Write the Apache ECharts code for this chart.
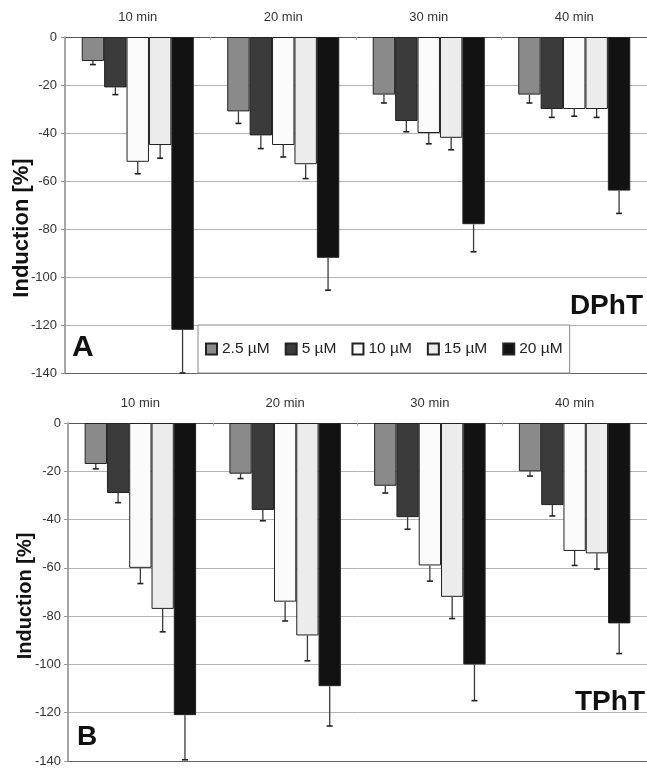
<!DOCTYPE html>
<html>
<head>
<meta charset="utf-8">
<script src="https://cdn.jsdelivr.net/npm/echarts@6/dist/echarts.min.js"></script>
<style>
  html, body { margin: 0; padding: 0; background: #fff; }
  #chart { width: 647px; height: 768px; }
</style>
</head>
<body>
<div id="chart"></div>
<script>
// Exposure times (categories) and concentrations (series)
const categories = ['10 min', '20 min', '30 min', '40 min'];
const concentrations = ['2.5 µM', '5 µM', '10 µM', '15 µM', '20 µM'];
const barColors = ['#8a8a8a', '#3b3b3b', '#fbfbfb', '#ececec', '#121212'];

// Panel A: DPhT — mean induction [%] per concentration
const dphtMean25 = [-10, -31, -24, -24];
const dphtMean5  = [-21, -41, -35, -30];
const dphtMean10 = [-52, -45, -40, -30];
const dphtMean15 = [-45, -53, -42, -30];
const dphtMean20 = [-122, -92, -78, -64];
// Panel A: DPhT — error (one-sided, drawn downward)
const dphtErr25 = [1.5, 5, 3.5, 3.5];
const dphtErr5  = [3, 5.5, 4.5, 3.5];
const dphtErr10 = [5, 5, 4.5, 3];
const dphtErr15 = [5.5, 6, 5, 3.5];
const dphtErr20 = [18, 13.5, 11.5, 9.5];

// Panel B: TPhT — mean induction [%] per concentration
const tphtMean25 = [-17, -21, -26, -20];
const tphtMean5  = [-29, -36, -39, -34];
const tphtMean10 = [-60, -74, -59, -53];
const tphtMean15 = [-77, -88, -72, -54];
const tphtMean20 = [-121, -109, -100, -83];
// Panel B: TPhT — error
const tphtErr25 = [2, 2, 3, 2];
const tphtErr5  = [4, 4.5, 5, 4.5];
const tphtErr10 = [6.5, 8, 6.5, 6];
const tphtErr15 = [9.5, 10.5, 9, 6.5];
const tphtErr20 = [18.5, 16.5, 15, 12.5];

const yMin = -140, yMax = 0, yStep = 20;

const dphtMeans = [dphtMean25, dphtMean5, dphtMean10, dphtMean15, dphtMean20];
const dphtErrs  = [dphtErr25, dphtErr5, dphtErr10, dphtErr15, dphtErr20];
const tphtMeans = [tphtMean25, tphtMean5, tphtMean10, tphtMean15, tphtMean20];
const tphtErrs  = [tphtErr25, tphtErr5, tphtErr10, tphtErr15, tphtErr20];

const FONT = '"Liberation Sans", Arial, sans-serif';
const GAP = 0.23; // barCategoryGap as a fraction

const chart = echarts.init(document.getElementById('chart'), null, { renderer: 'canvas' });

function xAxisFor(gridIndex) {
  return {
    type: 'category',
    gridIndex: gridIndex,
    data: categories,
    position: 'top',
    axisLine: { show: true, lineStyle: { color: '#555', width: 1 } },
    axisTick: { show: true, inside: true, length: 3, lineStyle: { color: '#aaa' } },
    axisLabel: { color: '#333', fontSize: 13, fontFamily: FONT, margin: 13 },
    splitLine: { show: false }
  };
}

// Plain baseline along the bottom edge of each panel
function baseAxisFor(gridIndex) {
  return {
    type: 'category',
    gridIndex: gridIndex,
    data: categories,
    position: 'bottom',
    axisLine: { show: true, lineStyle: { color: '#666', width: 1.2 } },
    axisTick: { show: false },
    axisLabel: { show: false },
    splitLine: { show: false }
  };
}

function yAxisFor(gridIndex, margin) {
  return {
    type: 'value',
    gridIndex: gridIndex,
    min: yMin, max: yMax, interval: yStep,
    axisLine: { show: true, lineStyle: { color: '#888', width: 1.5 } },
    axisTick: { show: true, length: 4, lineStyle: { color: '#999' } },
    axisLabel: { color: '#333', fontSize: 13, fontFamily: FONT, margin: margin },
    splitLine: { show: true, lineStyle: { color: '#b4b4b4', width: 1 } }
  };
}

function barSeries(gridIndex, means) {
  return means.map(function (vals, i) {
    return {
      name: concentrations[i],
      type: 'bar',
      xAxisIndex: gridIndex,
      yAxisIndex: gridIndex,
      data: vals,
      barGap: '0%',
      barCategoryGap: (GAP * 100) + '%',
      itemStyle: { color: barColors[i], borderColor: '#222', borderWidth: 1 },
      emphasis: { disabled: true },
      z: 2
    };
  });
}

function errorSeries(gridIndex, means, errs) {
  return means.map(function (vals, i) {
    const data = vals.map(function (v, k) { return [k, v, errs[i][k]]; });
    return {
      type: 'custom',
      xAxisIndex: gridIndex,
      yAxisIndex: gridIndex,
      data: data,
      z: 3,
      silent: true,
      renderItem: function (params, api) {
        const k = api.value(0);
        const v = api.value(1);
        const e = api.value(2);
        const band = api.size([1, 0])[0];
        const barW = band * (1 - GAP) / 5;
        const top = api.coord([k, v]);
        const bot = api.coord([k, v - e]);
        const cx = top[0] + (i - 2) * barW;
        const cap = 3;
        return {
          type: 'group',
          children: [
            { type: 'line', shape: { x1: cx, y1: top[1], x2: cx, y2: bot[1] },
              style: { stroke: '#3a3a3a', lineWidth: 1.3 } },
            { type: 'line', shape: { x1: cx - cap, y1: bot[1], x2: cx + cap, y2: bot[1] },
              style: { stroke: '#222', lineWidth: 1.6 } }
          ]
        };
      }
    };
  });
}

const option = {
  backgroundColor: '#fff',
  animation: false,
  textStyle: { fontFamily: FONT },
  grid: [
    { left: 65, top: 37, width: 583, height: 336 },
    { left: 68, top: 423, width: 584, height: 338 }
  ],
  xAxis: [xAxisFor(0), xAxisFor(1), baseAxisFor(0), baseAxisFor(1)],
  yAxis: [yAxisFor(0, 8), yAxisFor(1, 7)],
  legend: {
    data: concentrations,
    left: 198,
    top: 325,
    orient: 'horizontal',
    icon: 'rect',
    itemWidth: 11,
    itemHeight: 11,
    itemGap: 15,
    padding: [16, 7, 16, 7],
    borderColor: '#888',
    borderWidth: 1,
    backgroundColor: '#fff',
    selectedMode: false,
    textStyle: { color: '#222', fontSize: 15.5, fontFamily: FONT }
  },
  graphic: [
    { type: 'text', x: 22, y: 228, rotation: Math.PI / 2,
      style: { text: 'Induction [%]', font: 'bold 22px ' + FONT, fill: '#111', align: 'center', verticalAlign: 'middle' } },
    { type: 'text', x: 25, y: 596, rotation: Math.PI / 2,
      style: { text: 'Induction [%]', font: 'bold 20px ' + FONT, fill: '#111', align: 'center', verticalAlign: 'middle' } },
    { type: 'text', x: 72, y: 348,
      style: { text: 'A', font: 'bold 30px ' + FONT, fill: '#111', align: 'left', verticalAlign: 'middle' } },
    { type: 'text', x: 77, y: 737,
      style: { text: 'B', font: 'bold 28px ' + FONT, fill: '#111', align: 'left', verticalAlign: 'middle' } },
    { type: 'text', x: 643, y: 306,
      style: { text: 'DPhT', font: 'bold 28px ' + FONT, fill: '#111', align: 'right', verticalAlign: 'middle' } },
    { type: 'text', x: 645, y: 702,
      style: { text: 'TPhT', font: 'bold 28px ' + FONT, fill: '#111', align: 'right', verticalAlign: 'middle' } }
  ],
  series: []
    .concat(barSeries(0, dphtMeans))
    .concat(errorSeries(0, dphtMeans, dphtErrs))
    .concat(barSeries(1, tphtMeans))
    .concat(errorSeries(1, tphtMeans, tphtErrs))
};

chart.setOption(option);
</script>
</body>
</html>
